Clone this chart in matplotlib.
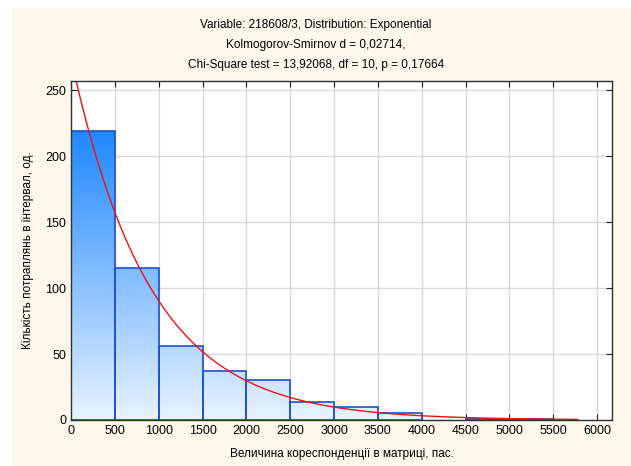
import numpy as np
import matplotlib
matplotlib.use("Agg")
import matplotlib.pyplot as plt
from matplotlib.patches import Rectangle
from matplotlib.colors import LinearSegmentedColormap

plt.rcParams['font.family'] = ['Liberation Sans', 'DejaVu Sans']

# histogram data (bins of 500)
bin_edges = [0, 500, 1000, 1500, 2000, 2500, 3000, 3500, 4000, 4500, 5000, 5500, 6000]
counts = [219, 115, 56, 37, 30, 14, 10, 5, 0, 1, 1, 0]

# fitted exponential
n_obs = 494
mean_val = 900
curve_end = 5780
curve_floor = 22

title = ("Variable: 218608/3, Distribution: Exponential\n"
         "Kolmogorov-Smirnov d = 0,02714,\n"
         "Chi-Square test = 13,92068, df = 10, p = 0,17664")
xlabel = "Величина кореспонденції в матриці, пас."
ylabel = "Кількість потраплянь в інтервал, од."

cream = "#FDF8EC"
fig = plt.figure(figsize=(6.31, 4.66), dpi=100, facecolor="white")
fig.patches.append(Rectangle((12 / 631, 0), 1, 1 - 8 / 466, transform=fig.transFigure,
                             facecolor=cream, edgecolor="none", zorder=-10))
ax = fig.add_axes([71 / 631, 1 - 420 / 466, (612 - 71) / 631, (420 - 81) / 466])
ax.set_facecolor("white")

xmax, ymax = 6170, 257
ax.set_xlim(0, xmax)
ax.set_ylim(0, ymax)

cmap = LinearSegmentedColormap.from_list("bl", ["#E8F3FF", "#1F88FF"])
grad = np.linspace(0, 1, 256).reshape(-1, 1)
top = max(counts)
for i, c in enumerate(counts):
    if c <= 0:
        continue
    x0, x1 = bin_edges[i], bin_edges[i + 1]
    im = ax.imshow(grad, cmap=cmap, origin="lower", aspect="auto",
                   extent=[0, xmax, 0, top], zorder=2, interpolation="bilinear")
    r = Rectangle((x0, 0), x1 - x0, c, facecolor="none", edgecolor="#1F4FD0",
                  linewidth=1.2, zorder=3)
    ax.add_patch(r)
    im.set_clip_path(r)

ax.set_xlim(0, xmax)
ax.set_ylim(0, ymax)

xs = np.linspace(0, curve_end, 400)
ys = n_obs * 500 / mean_val * np.exp(-xs / mean_val)
ax.plot(xs, ys, color="#F01010", linewidth=1.0, zorder=4, clip_on=True)
ax.vlines(0, curve_floor, ymax, color="#F01010", linewidth=1.4, zorder=4)

ax.set_xticks(np.arange(0, 6001, 500))
ax.set_yticks(np.arange(0, 251, 50))
ax.grid(True, color="#D8D8D8", linewidth=1.0, zorder=0)
ax.set_axisbelow(True)
ax.tick_params(direction="in", top=True, right=True, length=4, labelsize=9,
               color="#202020")
for s in ax.spines.values():
    s.set_color("#303030")
    s.set_linewidth(1.0)
    s.set_zorder(5)

ax.set_xlabel(xlabel, fontsize=8.5, labelpad=8)
ax.set_ylabel(ylabel, fontsize=8.5, labelpad=8)
fig.text(316 / 631, 1 - 45 / 466, title, ha="center", va="center", fontsize=8.5,
         linespacing=1.85)

fig.savefig("out.png", dpi=100, facecolor=fig.get_facecolor())
